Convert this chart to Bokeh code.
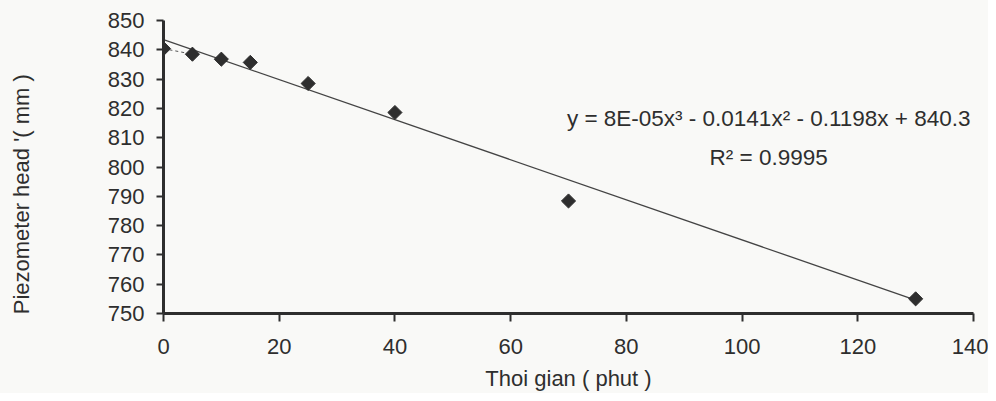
import math
from bokeh.plotting import figure
from bokeh.layouts import row
from bokeh.models import Label, Range1d, FixedTicker
from bokeh.embed import file_html
from bokeh.resources import INLINE

# data
time_min = [0, 5, 10, 15, 25, 40, 70, 130]
head_mm = [840.4, 838.5, 836.8, 835.7, 828.5, 818.6, 788.4, 755.0]
trend_x = [0, 130]
trend_y = [843.5, 754.6]
x_ticks = [0, 20, 40, 60, 80, 100, 120, 140]
y_ticks = [750, 760, 770, 780, 790, 800, 810, 820, 830, 840, 850]
x_title = "Thoi gian ( phut )"
y_title = "Piezometer head '( mm )"

FONT = "Liberation Sans"
INK = "#2e2e2e"
BG = "#f9f9f7"
H = 393
LW = 40

# narrow strip carrying the y-axis title
lab = figure(width=LW, height=H, output_backend="svg", toolbar_location=None,
             x_range=Range1d(0, LW), y_range=Range1d(0, H),
             x_axis_location=None, y_axis_location=None,
             min_border_left=0, min_border_right=0, min_border_top=0, min_border_bottom=0)
lab.background_fill_color = BG
lab.border_fill_color = BG
lab.outline_line_color = None
lab.grid.visible = False
lab.add_layout(Label(x=21, y=H - 233, text=y_title, angle=math.pi / 2,
                     text_align="center", text_baseline="middle", text_font=FONT,
                     text_font_size="22px", text_color=INK))

p = figure(width=988 - LW, height=H, output_backend="svg", toolbar_location=None,
           x_range=Range1d(0, 140), y_range=Range1d(750, 850),
           min_border_left=163 - LW, min_border_right=15, min_border_top=20,
           min_border_bottom=80)
p.background_fill_color = BG
p.border_fill_color = BG
p.outline_line_color = None
p.grid.visible = False

p.line(trend_x, trend_y, line_color="#444444", line_width=1.3)
p.line(time_min[:2], head_mm[:2], line_color="#555555", line_width=1, line_dash="3 3")
p.scatter(time_min, head_mm, marker="square", angle=math.pi / 4, size=10,
          fill_color=INK, line_color=INK)

for ax in (p.xaxis, p.yaxis):
    ax.axis_line_color = INK
    ax.axis_line_width = 3
    ax.major_tick_line_color = INK
    ax.major_tick_line_width = 2
    ax.major_tick_in = 0
    ax.minor_tick_line_color = None
    ax.major_label_text_font = FONT
    ax.major_label_text_font_size = "22px"
    ax.major_label_text_color = INK
    ax.axis_label_text_font = FONT
    ax.axis_label_text_font_style = "normal"
    ax.axis_label_text_color = INK

p.xaxis.ticker = FixedTicker(ticks=x_ticks)
p.yaxis.ticker = FixedTicker(ticks=y_ticks)
p.xaxis.major_tick_out = 8
p.yaxis.major_tick_out = 7
p.xaxis.major_label_standoff = 17
p.yaxis.major_label_standoff = 12
p.xaxis.axis_label = x_title
p.xaxis.axis_label_text_font_size = "22px"
p.xaxis.axis_label_standoff = 9

eq1 = Label(x=104.6, y=816.6, text="y = 8E-05x³ - 0.0141x² - 0.1198x + 840.3",
            text_align="center", text_baseline="middle", text_font=FONT,
            text_font_size="22.5px", text_color=INK)
eq2 = Label(x=104.6, y=803.3, text="R² = 0.9995",
            text_align="center", text_baseline="middle", text_font=FONT,
            text_font_size="22.5px", text_color=INK)
p.add_layout(eq1)
p.add_layout(eq2)

layout = row(lab, p, spacing=0, styles={"background-color": BG})
open("out.html", "w").write(file_html(layout, INLINE))
